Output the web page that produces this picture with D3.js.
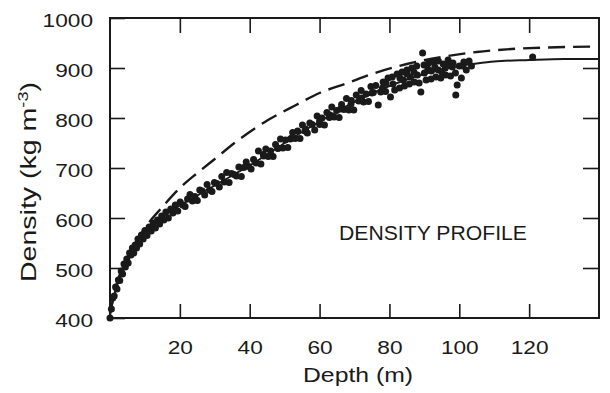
<!DOCTYPE html>
<html>
<head>
<meta charset="utf-8">
<script src="https://cdn.jsdelivr.net/npm/d3@7"></script>
<style>
  body { margin: 0; background: #fff; }
  text { font-family: "Liberation Sans", Arial, Helvetica, sans-serif; fill: #1a1a1a; }
</style>
</head>
<body>
<div id="chart"></div>
<script>
// measured firn density, [depth m, density kg m-3]
const measured = [
  [0,400],[0.4,418],[0.8,440],[1.2,444],[1.6,462],[2,458],[2.4,476],[2.8,475],[3.2,494],[3.6,488],
  [4,508],[4.4,502],[4.8,518],[5.2,510],[5.6,530],[6,526],[6.4,540],[6.8,530],[7.2,546],[7.6,540],
  [8,558],[8.5,548],[9,566],[9.5,558],[10,575],[10.6,565],[11.2,582],[11.8,574],[12.4,590],[13,580],
  [13.6,596],[14.2,588],[14.8,604],[15.4,596],[16,612],[16.7,600],[17.4,618],[18,610],[18.7,626],
  [19.4,614],
  [20.1,632],[20.8,626],[21.5,623],[22.2,638],[22.9,647],[23.6,634],[24.3,643],[25,635],[25.7,656],
  [26.4,654],[27.1,646],[27.8,667],[28.5,656],[29.2,653],[29.9,671],[30.6,669],[31.3,662],[32,683],
  [32.7,672],[33.4,691],[34.1,671],[34.8,689],[35.5,687],[36.2,684],[36.9,702],[37.6,683],[38.3,701],
  [39,712],[39.7,703],[40.4,698],[41.1,717],[41.8,710],[42.5,734],[43.2,708],[43.9,727],[44.6,738],
  [45.3,723],[46,734],[46.7,723],[47.4,747],[48.1,739],[48.8,758],[49.5,740],[50.2,756],[50.9,741],
  [51.6,758],[52.3,771],[53,759],[53.7,774],[54.4,759],[55.1,786],[55.8,774],[56.5,770],[57.2,790],
  [57.9,787],[58.6,776],[59.3,804],[60,787],[60.7,800],[61.4,786],[62.1,811],[62.8,801],[63.5,822],
  [64.2,802],[64.9,815],[65.6,801],[66.3,827],[67,817],[67.7,839],[68.4,816],[69.1,835],[69.8,816],
  [70.5,846],[71.2,834],[71.9,855],[72.6,832],[73.3,848],[74,833],[74.7,863],[75.4,851],[76.1,865],
  [76.8,826],[77.5,852],[78.2,872],[78.9,853],[79.6,880],
  [80.3,842],[80.8,882],[81.5,856],
  [82.2,888],[82.9,860],[83.6,892],[84.3,864],[85,896],[85.7,868],[86.4,900],[87.1,872],[87.8,904],
  [88.5,870],[89,852],[89.5,930],[89.9,906],[90.5,876],[91.2,910],[91.9,878],[92.6,912],[93.3,882],
  [94,914],[94.7,880],[95.4,908],[96.1,886],[96.8,916],[97.5,884],[98.2,910],[98.9,890],[99,846],
  [99.4,866],[100,904],[100.6,880],[101.3,912],[102,896],[102.8,914],[103.5,904],[121,922],
  [44,724],[48,740],[52,760],[56,778],[60,794],[63,806],[66,818],[69,828],[72,840],[75,850],
  [78,860],[81,868],[84,876],[86,882],[88,886],[90,890],[92,894],[94,896],[96,900],[98,902],
  [101,904],[85,888],[91,898],[95,892],[97,906],[83,880],[79,870],[87,892],[93,902]
];

// fitted profile (solid) and model profile (dashed)
const fitCurve = [
  [0,405],[1,440],[2,465],[4,500],[6,528],[8,550],[10,568],[13,590],[16,607],[20,625],[25,645],
  [30,665],[35,685],[40,705],[45,727],[50,750],[55,772],[60,793],[65,813],[70,832],[75,849],
  [80,864],[85,877],[90,888],[95,897],[100,904],[105,909],[110,913],[120,916],[130,918],[140,918]
];
const modelCurve = [
  [0,410],[2,470],[5,520],[10,580],[15,622],[20,660],[25,690],[30,718],[36,752],[45,795],
  [53,825],[60,850],[68,870],[75,888],[85,908],[95,922],[105,932],[115,938],[125,941],[140,943]
];

const xTicks = [20, 40, 60, 80, 100, 120];
const yTicks = [400, 500, 600, 700, 800, 900, 1000];

const width = 610, height = 393;
const margin = { top: 18, right: 11, bottom: 75, left: 110 };
const ink = "#1a1a1a";

const svg = d3.select("#chart").append("svg")
  .attr("width", width)
  .attr("height", height);

const x = d3.scaleLinear().domain([0, 140]).range([margin.left, width - margin.right]);
const y = d3.scaleLinear().domain([400, 1000]).range([height - margin.bottom, margin.top]);

// frame
svg.append("rect")
  .attr("x", x(0)).attr("y", y(1000))
  .attr("width", x(140) - x(0)).attr("height", y(400) - y(1000))
  .attr("fill", "none").attr("stroke", ink).attr("stroke-width", 2);

// axes, ticks pointing inward
const xAxis = svg.append("g")
  .attr("transform", "translate(0," + y(400) + ")")
  .call(d3.axisBottom(x).tickValues(xTicks).tickSizeInner(-14).tickSizeOuter(0).tickPadding(23));
const yAxis = svg.append("g")
  .attr("transform", "translate(" + x(0) + ",0)")
  .call(d3.axisLeft(y).tickValues(yTicks).tickFormat(d3.format("d"))
    .tickSizeInner(-15).tickSizeOuter(0).tickPadding(17));
svg.append("g")
  .attr("transform", "translate(0," + y(1000) + ")")
  .call(d3.axisTop(x).tickValues(xTicks).tickSizeInner(-15).tickSizeOuter(0).tickFormat(""));
svg.append("g")
  .attr("transform", "translate(" + x(140) + ",0)")
  .call(d3.axisRight(y).tickValues(yTicks.slice(1, -1)).tickSizeInner(-16).tickSizeOuter(0).tickFormat(""));

svg.selectAll(".domain").remove();
svg.selectAll(".tick line").attr("stroke", ink).attr("stroke-width", 1.6);
svg.selectAll(".tick text")
  .style("font-size", "19px")
  .attr("fill", ink)
  .attr("lengthAdjust", "spacingAndGlyphs")
  .attr("textLength", function() { return this.textContent.length * 12.6; });
yAxis.selectAll(".tick text").attr("dy", "0.47em");

// data points
svg.append("g").selectAll("circle")
  .data(measured)
  .join("circle")
  .attr("cx", d => x(d[0]))
  .attr("cy", d => y(d[1]))
  .attr("r", 3.5)
  .attr("fill", ink);

const line = d3.line()
  .x(d => x(d[0]))
  .y(d => y(d[1]))
  .curve(d3.curveMonotoneX);

svg.append("path")
  .datum(fitCurve)
  .attr("d", line)
  .attr("fill", "none")
  .attr("stroke", ink)
  .attr("stroke-width", 2);

svg.append("path")
  .datum(modelCurve)
  .attr("d", line)
  .attr("fill", "none")
  .attr("stroke", ink)
  .attr("stroke-width", 2.4)
  .attr("stroke-dasharray", "17,8");

// labels
svg.append("text")
  .attr("x", 358).attr("y", 382)
  .attr("text-anchor", "middle")
  .style("font-size", "21px")
  .attr("textLength", 110).attr("lengthAdjust", "spacingAndGlyphs")
  .text("Depth (m)");

const yl = svg.append("text")
  .attr("transform", "translate(36,182) rotate(-90)")
  .attr("text-anchor", "middle")
  .style("font-size", "22px")
  .attr("textLength", 200).attr("lengthAdjust", "spacingAndGlyphs");
yl.append("tspan").text("Density (kg m");
yl.append("tspan").attr("dy", -8).style("font-size", "14px").text("-3");
yl.append("tspan").attr("dy", 8).text(")");

svg.append("text")
  .attr("x", 339).attr("y", 240)
  .style("font-size", "21px")
  .attr("textLength", 188).attr("lengthAdjust", "spacingAndGlyphs")
  .text("DENSITY PROFILE");
</script>
</body>
</html>
